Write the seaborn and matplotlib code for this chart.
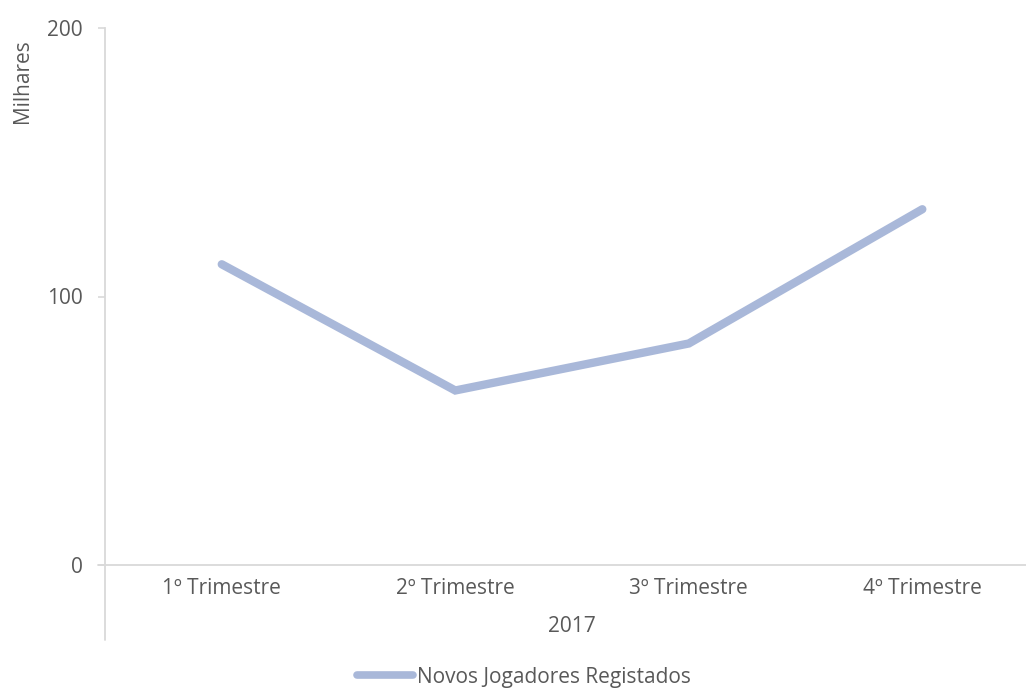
import pandas as pd
import matplotlib
matplotlib.use('Agg')
import matplotlib.pyplot as plt
import seaborn as sns
from matplotlib.lines import Line2D

# dados (milhares de novos jogadores por trimestre, 2017)
trimestres = ['1º Trimestre', '2º Trimestre', '3º Trimestre', '4º Trimestre']
novos_jogadores = [112, 65, 82.5, 132.5]
ano = '2017'
serie = 'Novos Jogadores Registados'

df = pd.DataFrame({'Trimestre': trimestres, 'Jogadores': novos_jogadores})

sns.set_style('white')
plt.rcParams['font.family'] = ['Open Sans', 'DejaVu Sans']
cor_texto = '#595959'
cor_eixo = '#d9d9d9'
cor_linha = '#a9b8d9'
fs = 15

fig = plt.figure(figsize=(10.26, 6.89), dpi=100)
ax = fig.add_axes([105 / 1026, (689 - 565) / 689, (1026 - 105) / 1026, (565 - 28) / 689])

sns.lineplot(data=df, x='Trimestre', y='Jogadores', ax=ax, color=cor_linha,
             linewidth=6, sort=False, legend=False)
for l in ax.lines:
    l.set_solid_capstyle('round')
    l.set_solid_joinstyle('miter')

ax.set_xlim(-0.5, 3.444)
ax.set_ylim(0, 200)
ax.set_yticks([0, 100, 200])
ax.tick_params(axis='y', colors=cor_eixo, labelcolor=cor_texto, labelsize=fs,
               length=5, width=1.2, direction='out', left=True, pad=11)
ax.tick_params(axis='x', labelcolor=cor_texto, labelsize=fs, length=0, pad=9)
ax.set_xlabel('')
ax.set_ylabel('')

for s in ['top', 'right']:
    ax.spines[s].set_visible(False)
for s in ['left', 'bottom']:
    ax.spines[s].set_color(cor_eixo)
    ax.spines[s].set_linewidth(1.3)

# prolongamento do eixo vertical (eixo de categorias com dois níveis)
fig.add_artist(Line2D([105 / 1026, 105 / 1026], [1 - 565 / 689, 1 - 640 / 689],
                      transform=fig.transFigure, color=cor_eixo, linewidth=1.3))
# extensão do eixo horizontal à esquerda
fig.add_artist(Line2D([98 / 1026, 105 / 1026], [1 - 565 / 689, 1 - 565 / 689],
                      transform=fig.transFigure, color=cor_eixo, linewidth=1.3))

fig.text(572 / 1026, 1 - 627 / 689, ano, ha='center', va='center',
         fontsize=fs, color=cor_texto)
fig.text(22 / 1026, 1 - 81 / 689, 'Milhares', rotation=90, ha='center', va='center',
         fontsize=fs, color=cor_texto)

handle = Line2D([], [], color=cor_linha, linewidth=5.5, solid_capstyle='round')
fig.legend([handle], [serie], loc='center', bbox_to_anchor=(524 / 1026, 1 - 677 / 689),
           frameon=False, fontsize=fs, labelcolor=cor_texto, handlelength=2.7,
           handletextpad=0.2)

fig.savefig('out.png', dpi=100)
